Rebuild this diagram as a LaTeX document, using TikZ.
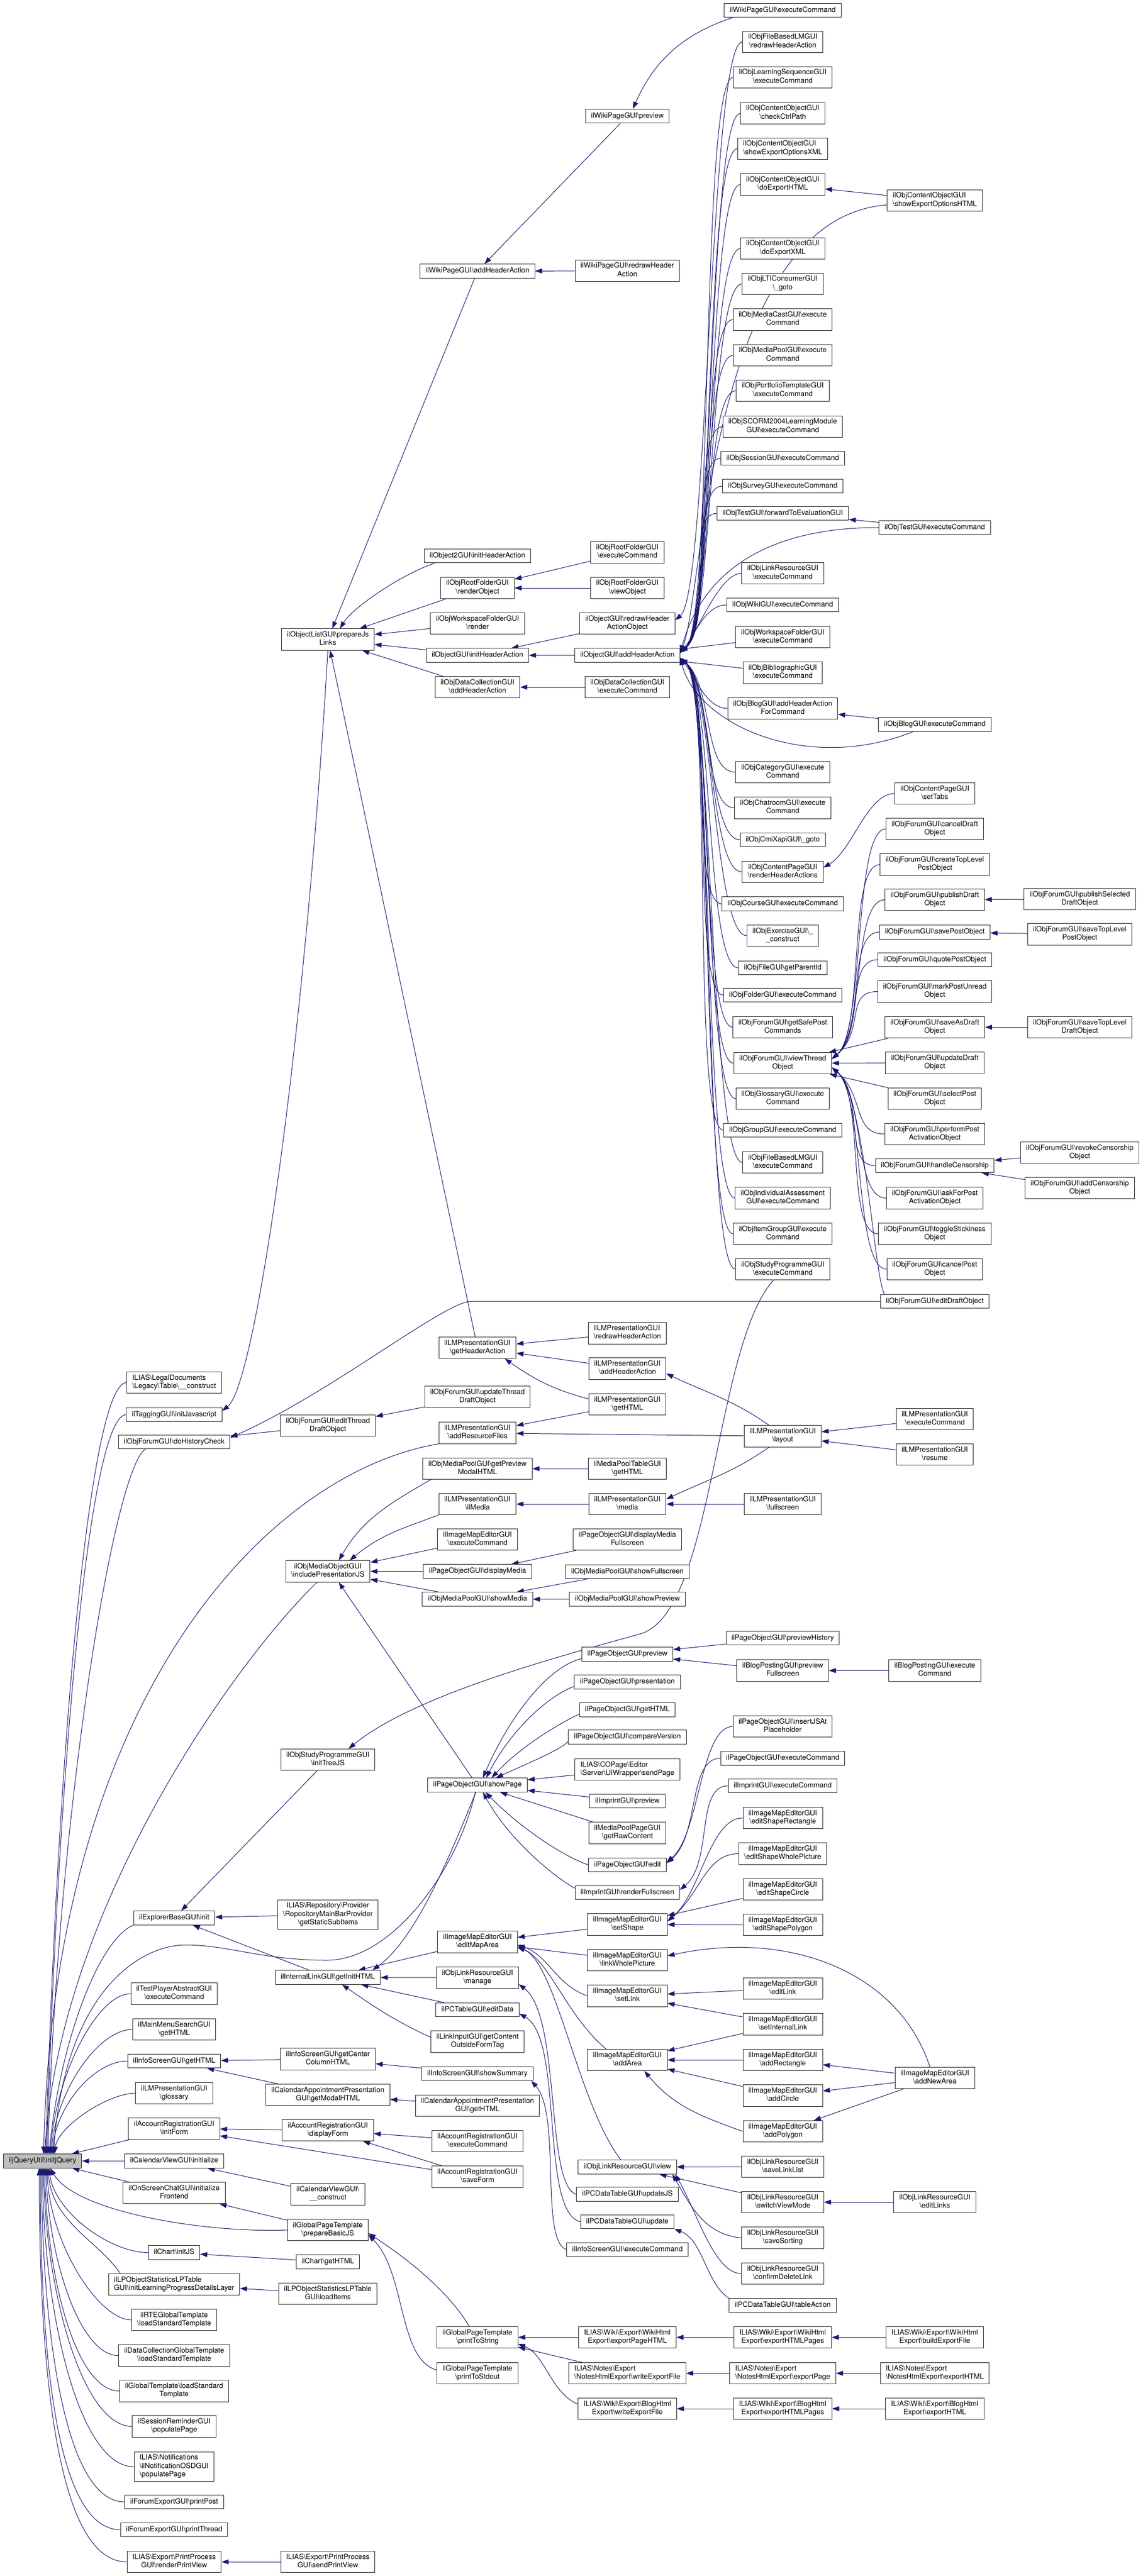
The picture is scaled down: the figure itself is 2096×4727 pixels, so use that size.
\documentclass[tikz,border=0pt]{standalone}
\usepackage{fontspec}
\setmainfont{TeX Gyre Heros}
\usetikzlibrary{arrows.meta}
\definecolor{navy}{HTML}{191970}
\definecolor{rootgray}{HTML}{BFBFBF}
\pgfdeclarelayer{back}
\pgfsetlayers{back,main}
\newcommand{\bs}{\textbackslash}

\begin{document}
\begin{tikzpicture}[x=1pt,y=1pt]
\tikzstyle{fn}=[draw=black!85, line width=1pt, fill=white, font=\fontsize{13.2}{15.3}\selectfont, align=center, inner xsep=10pt, inner ysep=4.7pt, minimum height=25.5pt, execute at begin node=\strut, execute at end node=\strut]
\tikzstyle{fnl}=[fn, align=left]
\tikzstyle{call}=[draw=navy, line width=1pt, -{Triangle[length=13pt,width=9pt]}]
\useasboundingbox (0,0) rectangle (2096,-4727);

% root
\node[fn, fill=rootgray] (root) at (78,-3965.5) {iljQueryUtil\bs initjQuery};

% first column
\node[fnl] (legalConstruct) at (319.5,-2537) {ILIAS\bs LegalDocuments\\\bs Legacy\bs Table\bs\_\_construct};
\node[fn] (taggingJS) at (319.5,-2596) {ilTaggingGUI\bs initJavascript};
\node[fn] (frmHistory) at (319.5,-2646) {ilObjForumGUI\bs doHistoryCheck};
\node[fn] (explorerInit) at (319.5,-3519.5) {ilExplorerBaseGUI\bs init};
\node[fn] (tpaExec) at (319.5,-3658.5) {ilTestPlayerAbstractGUI\\\bs executeCommand};
\node[fn] (mmSearch) at (319.5,-3724) {ilMainMenuSearchGUI\\\bs getHTML};
\node[fn] (infoGetHTML) at (319.5,-3782) {ilInfoScreenGUI\bs getHTML};
\node[fn] (lmGlossary) at (319.5,-3841) {ilLMPresentationGUI\\\bs glossary};
\node[fn] (accInitForm) at (319.5,-3906) {ilAccountRegistrationGUI\\\bs initForm};
\node[fn] (calInit) at (319.5,-3965.5) {ilCalendarViewGUI\bs initialize};
\node[fn] (chatInit) at (319.5,-4024) {ilOnScreenChatGUI\bs initialize\\Frontend};
\node[fn] (chartInit) at (319.5,-4133.5) {ilChart\bs initJS};
\node[fnl] (lpInit) at (319.5,-4192) {ilLPObjectStatisticsLPTable\\GUI\bs initLearningProgressDetailsLayer};
\node[fn] (rteLoad) at (319.5,-4257) {ilRTEGlobalTemplate\\\bs loadStandardTemplate};
\node[fn] (dclLoad) at (319.5,-4322.5) {ilDataCollectionGlobalTemplate\\\bs loadStandardTemplate};
\node[fn] (gtLoad) at (319.5,-4387.5) {ilGlobalTemplate\bs loadStandard\\Template};
\node[fn] (sessRem) at (319.5,-4452.5) {ilSessionReminderGUI\\\bs populatePage};
\node[fnl] (notifOSD) at (319.5,-4526.5) {ILIAS\bs Notifications\\\bs ilNotificationOSDGUI\\\bs populatePage};
\node[fn] (frmPrintPost) at (319.5,-4591) {ilForumExportGUI\bs printPost};
\node[fn] (frmPrintThread) at (319.5,-4642) {ilForumExportGUI\bs printThread};
\node[fn] (printRender) at (319.5,-4701) {ILIAS\bs Export\bs PrintProcess\\GUI\bs renderPrintView};

% second column
\node[fn] (listJs) at (601.5,-1173.5) {ilObjectListGUI\bs prepareJs\\Links};
\node[fn] (frmEditThread) at (601.5,-2616) {ilObjForumGUI\bs editThread\\DraftObject};
\node[fn] (mobInclude) at (601.5,-2883.5) {ilObjMediaObjectGUI\\\bs includePresentationJS};
\node[fn] (prgInitTree) at (601.5,-3229) {ilObjStudyProgrammeGUI\\\bs initTreeJS};
\node[fn] (repoProvider) at (601.5,-3513.5) {ILIAS\bs Repository\bs Provider\\\bs RepositoryMainBarProvider\\\bs getStaticSubItems};
\node[fn] (internalLink) at (601.5,-3628.5) {ilInternalLinkGUI\bs getInitHTML};
\node[fn] (infoCenter) at (601.5,-3778.5) {ilInfoScreenGUI\bs getCenter\\ColumnHTML};
\node[fn] (calPresModal) at (601.5,-3844) {ilCalendarAppointmentPresentation\\GUI\bs getModalHTML};
\node[fn] (accDisplay) at (601.5,-3909) {ilAccountRegistrationGUI\\\bs displayForm};
\node[fn] (calConstruct) at (601.5,-4026.5) {ilCalendarViewGUI\bs\\\_\_construct};
\node[fn] (gptBasicJS) at (601.5,-4092) {ilGlobalPageTemplate\\\bs prepareBasicJS};
\node[fn] (chartHTML) at (601.5,-4150.5) {ilChart\bs getHTML};
\node[fn] (lpLoad) at (601.5,-4209) {ilLPObjectStatisticsLPTable\\GUI\bs loadItems};
\node[fn] (printSend) at (601.5,-4701) {ILIAS\bs Export\bs PrintProcess\\GUI\bs sendPrintView};

% third column
\node[fn] (wikiAdd) at (876,-497.5) {ilWikiPageGUI\bs addHeaderAction};
\node[fn] (obj2Init) at (876,-1020) {ilObject2GUI\bs initHeaderAction};
\node[fn] (rootRender) at (876,-1079) {ilObjRootFolderGUI\\\bs renderObject};
\node[fn] (wsRender) at (876,-1144) {ilObjWorkspaceFolderGUI\\\bs render};
\node[fn] (objInit) at (876,-1202.5) {ilObjectGUI\bs initHeaderAction};
\node[fn] (dclAdd) at (876,-1261) {ilObjDataCollectionGUI\\\bs addHeaderAction};
\node[fn] (lmGetHeader) at (876,-2473) {ilLMPresentationGUI\\\bs getHeaderAction};
\node[fn] (frmUpdThread) at (876,-2563) {ilObjForumGUI\bs updateThread\\DraftObject};
\node[fn] (lmAddRes) at (876,-2629.5) {ilLMPresentationGUI\\\bs addResourceFiles};
\node[fn] (mepPrevModal) at (876,-2695) {ilObjMediaPoolGUI\bs getPreview\\ModalHTML};
\node[fn] (lmIlMedia) at (876,-2760) {ilLMPresentationGUI\\\bs ilMedia};
\node[fn] (imeExec) at (876,-2825) {ilImageMapEditorGUI\\\bs executeCommand};
\node[fn] (pgDispMedia) at (876,-2883.5) {ilPageObjectGUI\bs displayMedia};
\node[fn] (mepShowMedia) at (876,-2934.5) {ilObjMediaPoolGUI\bs showMedia};
\node[fn] (pgShowPage) at (876,-3275.5) {ilPageObjectGUI\bs showPage};
\node[fn] (imeEditMap) at (876,-3563.5) {ilImageMapEditorGUI\\\bs editMapArea};
\node[fn] (lrManage) at (876,-3629) {ilObjLinkResourceGUI\\\bs manage};
\node[fn] (pcTableEdit) at (876,-3688) {ilPCTableGUI\bs editData};
\node[fn] (linkInput) at (876,-3746.5) {ilLinkInputGUI\bs getContent\\OutsideFormTag};
\node[fn] (infoSummary) at (876,-3805) {ilInfoScreenGUI\bs showSummary};
\node[fn] (calPresHTML) at (876,-3864) {ilCalendarAppointmentPresentation\\GUI\bs getHTML};
\node[fn] (accExec) at (876,-3929) {ilAccountRegistrationGUI\\\bs executeCommand};
\node[fn] (accSave) at (876,-3994.5) {ilAccountRegistrationGUI\\\bs saveForm};
\node[fn] (gptToString) at (876,-4289) {ilGlobalPageTemplate\\\bs printToString};
\node[fn] (gptToStdout) at (876,-4355) {ilGlobalPageTemplate\\\bs printToStdout};

% fourth column
\node[fn] (wikiPreview) at (1151,-213) {ilWikiPageGUI\bs preview};
\node[fn] (wikiRedraw) at (1151,-497) {ilWikiPageGUI\bs redrawHeader\\Action};
\node[fn] (rootExec) at (1151,-1013.5) {ilObjRootFolderGUI\\\bs executeCommand};
\node[fn] (rootView) at (1151,-1079) {ilObjRootFolderGUI\\\bs viewObject};
\node[fn] (objRedraw) at (1151,-1144) {ilObjectGUI\bs redrawHeader\\ActionObject};
\node[fn] (objAdd) at (1151,-1202.5) {ilObjectGUI\bs addHeaderAction};
\node[fn] (dclExec) at (1151,-1261) {ilObjDataCollectionGUI\\\bs executeCommand};
\node[fnl] (lmRedraw) at (1151,-2446.5) {ilLMPresentationGUI\\\bs redrawHeaderAction};
\node[fn] (lmAdd) at (1151,-2511.5) {ilLMPresentationGUI\\\bs addHeaderAction};
\node[fn] (lmGetHTML) at (1151,-2577) {ilLMPresentationGUI\\\bs getHTML};
\node[fn] (mepTblHTML) at (1151,-2695) {ilMediaPoolTableGUI\\\bs getHTML};
\node[fn] (lmMedia) at (1151,-2760) {ilLMPresentationGUI\\\bs media};
\node[fn] (pgDispMediaFS) at (1151,-2825) {ilPageObjectGUI\bs displayMedia\\Fullscreen};
\node[fn] (mepShowFS) at (1151,-2884) {ilObjMediaPoolGUI\bs showFullscreen};
\node[fn] (mepShowPrev) at (1151,-2934.5) {ilObjMediaPoolGUI\bs showPreview};
\node[fn] (pgPreview) at (1151,-3035.5) {ilPageObjectGUI\bs preview};
\node[fn] (pgPresentation) at (1151,-3086.5) {ilPageObjectGUI\bs presentation};
\node[fn] (pgGetHTML) at (1151,-3137.5) {ilPageObjectGUI\bs getHTML};
\node[fn] (pgCompare) at (1151,-3187.5) {ilPageObjectGUI\bs compareVersion};
\node[fnl] (coPageSend) at (1151,-3247) {ILIAS\bs COPage\bs Editor\\\bs Server\bs UIWrapper\bs sendPage};
\node[fn] (imprintPreview) at (1151,-3305) {ilImprintGUI\bs preview};
\node[fn] (mepPageRaw) at (1151,-3363.5) {ilMediaPoolPageGUI\\\bs getRawContent};
\node[fn] (pgEdit) at (1151,-3422) {ilPageObjectGUI\bs edit};
\node[fn] (imprintRenderFS) at (1151,-3473) {ilImprintGUI\bs renderFullscreen};
\node[fn] (imeSetShape) at (1151,-3531.5) {ilImageMapEditorGUI\\\bs setShape};
\node[fn] (imeLinkWhole) at (1151,-3597) {ilImageMapEditorGUI\\\bs linkWholePicture};
\node[fn] (imeSetLink) at (1151,-3662.5) {ilImageMapEditorGUI\\\bs setLink};
\node[fn] (imeAddArea) at (1151,-3780) {ilImageMapEditorGUI\\\bs addArea};
\node[fn] (lrView) at (1151,-3976.5) {ilObjLinkResourceGUI\bs view};
\node[fn] (pcdtUpdJS) at (1151,-4026.5) {ilPCDataTableGUI\bs updateJS};
\node[fn] (pcdtUpd) at (1151,-4077) {ilPCDataTableGUI\bs update};
\node[fn] (infoExec) at (1151,-4128) {ilInfoScreenGUI\bs executeCommand};
\node[fn] (wikiExpPage) at (1151,-4289) {ILIAS\bs Wiki\bs Export\bs WikiHtml\\Export\bs exportPageHTML};
\node[fnl] (notesWrite) at (1151,-4355) {ILIAS\bs Notes\bs Export\\\bs NotesHtmlExport\bs writeExportFile};
\node[fn] (blogWrite) at (1151,-4420) {ILIAS\bs Wiki\bs Export\bs BlogHtml\\Export\bs writeExportFile};

% fifth column
\node[fn] (wikiExec) at (1436,-19) {ilWikiPageGUI\bs executeCommand};
\node[fn] (fileLMredraw) at (1436,-77) {ilObjFileBasedLMGUI\\\bs redrawHeaderAction};
\node[fn] (lsoExec) at (1436,-142) {ilObjLearningSequenceGUI\\\bs executeCommand};
\node[fn] (cntCtrl) at (1436,-208) {ilObjContentObjectGUI\\\bs checkCtrlPath};
\node[fnl] (cntXMLopt) at (1436,-273) {ilObjContentObjectGUI\\\bs showExportOptionsXML};
\node[fn] (cntDoHTML) at (1436,-338.5) {ilObjContentObjectGUI\\\bs doExportHTML};
\node[fn] (cntDoXML) at (1436,-456) {ilObjContentObjectGUI\\\bs doExportXML};
\node[fn] (ltiGoto) at (1436,-521) {ilObjLTIConsumerGUI\\\bs\_goto};
\node[fn] (mcstExec) at (1436,-586.5) {ilObjMediaCastGUI\bs execute\\Command};
\node[fn] (mepExec) at (1436,-652) {ilObjMediaPoolGUI\bs execute\\Command};
\node[fn] (prtfTplExec) at (1436,-717) {ilObjPortfolioTemplateGUI\\\bs executeCommand};
\node[fn] (scormExec) at (1436,-783) {ilObjSCORM2004LearningModule\\GUI\bs executeCommand};
\node[fn] (sessExec) at (1436,-841) {ilObjSessionGUI\bs executeCommand};
\node[fn] (svyExec) at (1436,-892) {ilObjSurveyGUI\bs executeCommand};
\node[fn] (tstFwd) at (1436,-942) {ilObjTestGUI\bs forwardToEvaluationGUI};
\node[fn] (lrExec) at (1436,-1052) {ilObjLinkResourceGUI\\\bs executeCommand};
\node[fn] (wikiObjExec) at (1436,-1110) {ilObjWikiGUI\bs executeCommand};
\node[fn] (wfldExec) at (1436,-1169) {ilObjWorkspaceFolderGUI\\\bs executeCommand};
\node[fn] (biblExec) at (1436,-1234.5) {ilObjBibliographicGUI\\\bs executeCommand};
\node[fn] (blogAddCmd) at (1436,-1300) {ilObjBlogGUI\bs addHeaderAction\\ForCommand};
\node[fn] (catExec) at (1436,-1417) {ilObjCategoryGUI\bs execute\\Command};
\node[fn] (chatExec) at (1436,-1482.5) {ilObjChatroomGUI\bs execute\\Command};
\node[fn] (cmixGoto) at (1436,-1541) {ilObjCmiXapiGUI\bs\_goto};
\node[fn] (cpageRender) at (1436,-1600) {ilObjContentPageGUI\\\bs renderHeaderActions};
\node[fn] (crsExec) at (1436,-1658.5) {ilObjCourseGUI\bs executeCommand};
\node[fn] (excConstruct) at (1436,-1717) {ilObjExerciseGUI\bs\_\\\_construct};
\node[fn] (fileParent) at (1436,-1776) {ilObjFileGUI\bs getParentId};
\node[fn] (fldExec) at (1436,-1826) {ilObjFolderGUI\bs executeCommand};
\node[fn] (frmSafe) at (1436,-1885) {ilObjForumGUI\bs getSafePost\\Commands};
\node[fn] (frmView) at (1436,-1951) {ilObjForumGUI\bs viewThread\\Object};
\node[fn] (gloExec) at (1436,-2016) {ilObjGlossaryGUI\bs execute\\Command};
\node[fn] (grpExec) at (1436,-2074) {ilObjGroupGUI\bs executeCommand};
\node[fn] (fileLMExec) at (1436,-2133) {ilObjFileBasedLMGUI\\\bs executeCommand};
\node[fn] (iassExec) at (1436,-2198.5) {ilObjIndividualAssessment\\GUI\bs executeCommand};
\node[fn] (itgrExec) at (1436,-2264) {ilObjItemGroupGUI\bs execute\\Command};
\node[fn] (prgExec) at (1436,-2329) {ilObjStudyProgrammeGUI\\\bs executeCommand};
\node[fn] (lmLayout) at (1436,-2635.5) {ilLMPresentationGUI\\\bs layout};
\node[fn] (lmFullscreen) at (1436,-2760) {ilLMPresentationGUI\\\bs fullscreen};
\node[fn] (pgPreviewHist) at (1436,-3006) {ilPageObjectGUI\bs previewHistory};
\node[fn] (blogPrevFS) at (1436,-3065.5) {ilBlogPostingGUI\bs preview\\Fullscreen};
\node[fn] (pgInsertJS) at (1436,-3168) {ilPageObjectGUI\bs insertJSAt\\Placeholder};
\node[fn] (pgExec) at (1436,-3226.5) {ilPageObjectGUI\bs executeCommand};
\node[fn] (imprintExec) at (1436,-3277) {ilImprintGUI\bs executeCommand};
\node[fn] (imeEditRect) at (1436,-3336) {ilImageMapEditorGUI\\\bs editShapeRectangle};
\node[fn] (imeEditWhole) at (1436,-3401.5) {ilImageMapEditorGUI\\\bs editShapeWholePicture};
\node[fn] (imeEditCircle) at (1436,-3467) {ilImageMapEditorGUI\\\bs editShapeCircle};
\node[fn] (imeEditPoly) at (1436,-3532) {ilImageMapEditorGUI\\\bs editShapePolygon};
\node[fn] (imeEditLink) at (1436,-3649) {ilImageMapEditorGUI\\\bs editLink};
\node[fn] (imeSetIntLink) at (1436,-3714.5) {ilImageMapEditorGUI\\\bs setInternalLink};
\node[fn] (imeAddRect) at (1436,-3780) {ilImageMapEditorGUI\\\bs addRectangle};
\node[fn] (imeAddCircle) at (1436,-3845.5) {ilImageMapEditorGUI\\\bs addCircle};
\node[fn] (imeAddPoly) at (1436,-3911) {ilImageMapEditorGUI\\\bs addPolygon};
\node[fn] (lrSaveList) at (1436,-3976) {ilObjLinkResourceGUI\\\bs saveLinkList};
\node[fn] (lrSwitch) at (1436,-4041) {ilObjLinkResourceGUI\\\bs switchViewMode};
\node[fn] (lrSaveSort) at (1436,-4106.5) {ilObjLinkResourceGUI\\\bs saveSorting};
\node[fn] (lrConfirm) at (1436,-4172) {ilObjLinkResourceGUI\\\bs confirmDeleteLink};
\node[fn] (pcdtTableAct) at (1436,-4230.5) {ilPCDataTableGUI\bs tableAction};
\node[fn] (wikiExpPages) at (1436,-4289) {ILIAS\bs Wiki\bs Export\bs WikiHtml\\Export\bs exportHTMLPages};
\node[fnl] (notesPage) at (1436,-4355) {ILIAS\bs Notes\bs Export\\\bs NotesHtmlExport\bs exportPage};
\node[fn] (blogPages) at (1436,-4420) {ILIAS\bs Wiki\bs Export\bs BlogHtml\\Export\bs exportHTMLPages};

% sixth column
\node[fnl] (cntHTMLopt) at (1715,-368) {ilObjContentObjectGUI\\\bs showExportOptionsHTML};
\node[fn] (tstExec) at (1715,-968) {ilObjTestGUI\bs executeCommand};
\node[fn] (blogExec) at (1715,-1329.5) {ilObjBlogGUI\bs executeCommand};
\node[fn] (cpageTabs) at (1715,-1456) {ilObjContentPageGUI\\\bs setTabs};
\node[fn] (frmCancelDraft) at (1715,-1521) {ilObjForumGUI\bs cancelDraft\\Object};
\node[fn] (frmCreateTop) at (1715,-1586.5) {ilObjForumGUI\bs createTopLevel\\PostObject};
\node[fn] (frmPublishDraft) at (1715,-1651) {ilObjForumGUI\bs publishDraft\\Object};
\node[fn] (frmSavePost) at (1715,-1710.5) {ilObjForumGUI\bs savePostObject};
\node[fn] (frmQuote) at (1715,-1761) {ilObjForumGUI\bs quotePostObject};
\node[fn] (frmMarkUnread) at (1715,-1819.5) {ilObjForumGUI\bs markPostUnread\\Object};
\node[fn] (frmSaveAsDraft) at (1715,-1885) {ilObjForumGUI\bs saveAsDraft\\Object};
\node[fn] (frmUpdateDraft) at (1715,-1950.5) {ilObjForumGUI\bs updateDraft\\Object};
\node[fn] (frmSelect) at (1715,-2016) {ilObjForumGUI\bs selectPost\\Object};
\node[fn] (frmPerform) at (1715,-2081) {ilObjForumGUI\bs performPost\\ActivationObject};
\node[fn] (frmHandle) at (1715,-2139) {ilObjForumGUI\bs handleCensorship};
\node[fn] (frmAsk) at (1715,-2198.5) {ilObjForumGUI\bs askForPost\\ActivationObject};
\node[fn] (frmSticky) at (1715,-2264) {ilObjForumGUI\bs toggleStickiness\\Object};
\node[fn] (frmCancelPost) at (1715,-2329) {ilObjForumGUI\bs cancelPost\\Object};
\node[fn] (frmEditDraft) at (1715,-2388) {ilObjForumGUI\bs editDraftObject};
\node[fn] (lmExec) at (1715,-2604) {ilLMPresentationGUI\\\bs executeCommand};
\node[fn] (lmResume) at (1715,-2669) {ilLMPresentationGUI\\\bs resume};
\node[fn] (blogPostExec) at (1715,-3065.5) {ilBlogPostingGUI\bs execute\\Command};
\node[fn] (imeAddNew) at (1715,-3813) {ilImageMapEditorGUI\\\bs addNewArea};
\node[fn] (lrEditLinks) at (1715,-4041) {ilObjLinkResourceGUI\\\bs editLinks};
\node[fn] (wikiBuild) at (1715,-4289) {ILIAS\bs Wiki\bs Export\bs WikiHtml\\Export\bs buildExportFile};
\node[fnl] (notesHTML) at (1715,-4355) {ILIAS\bs Notes\bs Export\\\bs NotesHtmlExport\bs exportHTML};
\node[fn] (blogExpHTML) at (1715,-4420) {ILIAS\bs Wiki\bs Export\bs BlogHtml\\Export\bs exportHTML};

% seventh column
\node[fn] (frmPublishSel) at (1981,-1650) {ilObjForumGUI\bs publishSelected\\DraftObject};
\node[fn] (frmSaveTopPost) at (1981,-1714.5) {ilObjForumGUI\bs saveTopLevel\\PostObject};
\node[fn] (frmSaveTopDraft) at (1981,-1885) {ilObjForumGUI\bs saveTopLevel\\DraftObject};
\node[fn] (frmRevoke) at (1981,-2115) {ilObjForumGUI\bs revokeCensorship\\Object};
\node[fn] (frmAddCens) at (1981,-2180) {ilObjForumGUI\bs addCensorship\\Object};

\begin{pgfonlayer}{back}
\fill[white] (0,0) rectangle (2096,-4727);
% callers of initjQuery
\draw[call] (legalConstruct.west) .. controls +(-70,0) and +(20,700) .. ([xshift=6pt]root.north);
\draw[call] (taggingJS.west) .. controls +(-70,0) and +(18,650) .. ([xshift=8pt]root.north);
\draw[call] ([xshift=50pt]frmHistory.south west) .. controls +(-60,-40) and +(16,600) .. ([xshift=10pt]root.north);
\draw[call] (lmAddRes.south west) .. controls (500,-2700) and (100,-3100) .. ([xshift=2pt]root.north);
\draw[call] ([xshift=-20pt]mobInclude.south) .. controls (430,-3050) and (110,-3500) .. ([xshift=4pt]root.north);
\draw[call] (explorerInit.south west) .. controls (180,-3560) and (110,-3750) .. ([xshift=12pt]root.north);
\draw[call] ([xshift=-4pt]pgShowPage.south) .. controls (840,-3430) and (720,-3597) .. (600,-3597) .. controls (480,-3597) and (420,-3569) .. (340,-3569) .. controls (260,-3569) and (120,-3650) .. ([xshift=20pt]root.north);
\draw[call] (tpaExec.west) .. controls +(-60,0) and +(12,150) .. ([xshift=14pt]root.north);
\draw[call] (mmSearch.west) .. controls +(-60,0) and +(10,120) .. ([xshift=16pt]root.north);
\draw[call] (infoGetHTML.west) .. controls +(-60,0) and +(8,90) .. ([xshift=18pt]root.north);
\draw[call] (lmGlossary.west) .. controls +(-50,0) and +(6,50) .. ([xshift=22pt]root.north);
\draw[call] (accInitForm) -- (root);
\draw[call] (calInit) -- (root);
\draw[call] (chatInit) -- (root);
\draw[call] (gptBasicJS.west) .. controls (380,-4098) and (140,-4060) .. ([xshift=14pt]root.south);
\draw[call] (chartInit.west) .. controls +(-70,0) and +(10,-80) .. ([xshift=12pt]root.south);
\draw[call] ([xshift=22pt]lpInit.north west) .. controls +(-40,60) and +(8,-100) .. ([xshift=10pt]root.south);
\draw[call] (rteLoad.west) .. controls +(-60,0) and +(6,-140) .. ([xshift=8pt]root.south);
\draw[call] (dclLoad.west) .. controls +(-70,0) and +(6,-170) .. ([xshift=6pt]root.south);
\draw[call] (gtLoad.west) .. controls +(-80,0) and +(4,-200) .. ([xshift=4pt]root.south);
\draw[call] (sessRem.west) .. controls +(-90,0) and +(4,-230) .. ([xshift=2pt]root.south);
\draw[call] (notifOSD.west) .. controls +(-100,0) and +(2,-270) .. (root.south);
\draw[call] (frmPrintPost.west) .. controls +(-110,0) and +(2,-300) .. ([xshift=-2pt]root.south);
\draw[call] (frmPrintThread.west) .. controls +(-120,0) and +(0,-330) .. ([xshift=-4pt]root.south);
\draw[call] (printRender.west) .. controls +(-130,0) and +(0,-360) .. ([xshift=-6pt]root.south);

% prepareJsLinks and the header actions
\draw[call] (listJs.south) .. controls (560,-1900) and (470,-2540) .. ([yshift=7pt]taggingJS.east);
\draw[call] (wikiAdd) -- (listJs);
\draw[call] ([xshift=20pt]obj2Init.south west) .. controls +(-60,-20) and +(25,40) .. ([xshift=22pt]listJs.north);
\draw[call] (rootRender) -- (listJs);
\draw[call] (wsRender) -- (listJs);
\draw[call] (objInit) -- (listJs);
\draw[call] (dclAdd) -- (listJs);
\draw[call] (lmGetHeader) -- (listJs);
\draw[call] (wikiRedraw) -- (wikiAdd);
\draw[call] (wikiPreview) -- (wikiAdd);
\draw[call] ([xshift=16pt]wikiExec.south west) .. controls +(-90,-30) and +(40,90) .. ([xshift=10pt]wikiPreview.north);
\draw[call] (rootExec) -- (rootRender);
\draw[call] (rootView) -- (rootRender);
\draw[call] (objRedraw) -- (objInit);
\draw[call] (objAdd) -- (objInit);
\draw[call] (dclExec) -- (dclAdd);
\draw[call] (fileLMredraw.west) .. controls +(-60,0) and +(61,51) .. ([yshift=6pt]objRedraw.east);

% callers of ilObjectGUI::addHeaderAction
\draw[call] (lsoExec.west) .. controls +(-60,0) and +(61,51) .. ([yshift=5pt]objAdd.east);
\draw[call] (cntCtrl.west) .. controls +(-60,0) and +(61,51) .. ([yshift=5pt]objAdd.east);
\draw[call] (cntXMLopt.west) .. controls +(-60,0) and +(61,51) .. ([yshift=5pt]objAdd.east);
\draw[call] (cntDoHTML.west) .. controls +(-60,0) and +(61,51) .. ([yshift=5pt]objAdd.east);
\draw[call] (cntDoXML.west) .. controls +(-60,0) and +(61,51) .. ([yshift=5pt]objAdd.east);
\draw[call] (ltiGoto.west) .. controls +(-60,0) and +(61,51) .. ([yshift=5pt]objAdd.east);
\draw[call] (mcstExec.west) .. controls +(-60,0) and +(61,51) .. ([yshift=5pt]objAdd.east);
\draw[call] (mepExec.west) .. controls +(-60,0) and +(61,51) .. ([yshift=5pt]objAdd.east);
\draw[call] (prtfTplExec.west) .. controls +(-60,0) and +(61,51) .. ([yshift=5pt]objAdd.east);
\draw[call] (scormExec.west) .. controls +(-60,0) and +(61,51) .. ([yshift=5pt]objAdd.east);
\draw[call] (sessExec.west) .. controls +(-60,0) and +(61,51) .. ([yshift=5pt]objAdd.east);
\draw[call] (svyExec.west) .. controls +(-60,0) and +(61,51) .. ([yshift=5pt]objAdd.east);
\draw[call] (tstFwd.west) .. controls +(-60,0) and +(61,51) .. ([yshift=5pt]objAdd.east);
\draw[call] (lrExec.west) .. controls +(-40,0) and +(32,38) .. ([yshift=5pt]objAdd.east);
\draw[call] (wikiObjExec.west) .. controls +(-40,0) and +(26,31) .. ([yshift=5pt]objAdd.east);
\draw[call] (wfldExec) -- (objAdd);
\draw[call] (biblExec) -- (objAdd);
\draw[call] (blogAddCmd.west) .. controls +(-40,0) and +(26,-31) .. ([yshift=-5pt]objAdd.east);
\draw[call] (catExec.west) .. controls +(-60,0) and +(61,-51) .. ([yshift=-5pt]objAdd.east);
\draw[call] (chatExec.west) .. controls +(-60,0) and +(61,-51) .. ([yshift=-5pt]objAdd.east);
\draw[call] (cmixGoto.west) .. controls +(-60,0) and +(61,-51) .. ([yshift=-5pt]objAdd.east);
\draw[call] (cpageRender.west) .. controls +(-60,0) and +(61,-51) .. ([yshift=-5pt]objAdd.east);
\draw[call] (crsExec.west) .. controls +(-60,0) and +(61,-51) .. ([yshift=-5pt]objAdd.east);
\draw[call] (excConstruct.west) .. controls +(-60,0) and +(61,-51) .. ([yshift=-5pt]objAdd.east);
\draw[call] (fileParent.west) .. controls +(-60,0) and +(61,-51) .. ([yshift=-5pt]objAdd.east);
\draw[call] (fldExec.west) .. controls +(-60,0) and +(61,-51) .. ([yshift=-5pt]objAdd.east);
\draw[call] (frmSafe.west) .. controls +(-60,0) and +(61,-51) .. ([yshift=-5pt]objAdd.east);
\draw[call] (frmView.west) .. controls +(-60,0) and +(61,-51) .. ([yshift=-5pt]objAdd.east);
\draw[call] (gloExec.west) .. controls +(-60,0) and +(61,-51) .. ([yshift=-5pt]objAdd.east);
\draw[call] (grpExec.west) .. controls +(-60,0) and +(61,-51) .. ([yshift=-5pt]objAdd.east);
\draw[call] (fileLMExec.west) .. controls +(-60,0) and +(61,-51) .. ([yshift=-5pt]objAdd.east);
\draw[call] (iassExec.west) .. controls +(-60,0) and +(61,-51) .. ([yshift=-5pt]objAdd.east);
\draw[call] (itgrExec.west) .. controls +(-60,0) and +(61,-51) .. ([yshift=-5pt]objAdd.east);
\draw[call] (prgExec.west) .. controls +(-60,0) and +(61,-51) .. ([yshift=-5pt]objAdd.east);
\draw[call] ([yshift=-8pt]cntHTMLopt.west) .. controls (1300,-400) and (1290,-1100) .. ([yshift=5pt]objAdd.east);
\draw[call] (cntHTMLopt) -- (cntDoHTML);
\draw[call] (tstExec.west) .. controls (1330,-968) and (1270,-1120) .. ([yshift=5pt]objAdd.east);
\draw[call] (tstExec) -- (tstFwd);
\draw[call] ([xshift=-40pt]blogExec.south) .. controls (1480,-1420) and (1280,-1330) .. ([yshift=-5pt]objAdd.east);
\draw[call] (blogExec) -- (blogAddCmd);
\draw[call] (cpageTabs.west) .. controls +(-50,0) and +(52,30) .. ([yshift=8pt]cpageRender.east);

% forum thread view
\draw[call] (frmCancelDraft.west) .. controls +(-60,0) and +(61,51) .. ([yshift=8pt]frmView.east);
\draw[call] (frmCreateTop.west) .. controls +(-60,0) and +(61,51) .. ([yshift=8pt]frmView.east);
\draw[call] (frmPublishDraft.west) .. controls +(-60,0) and +(61,51) .. ([yshift=8pt]frmView.east);
\draw[call] (frmSavePost.west) .. controls +(-60,0) and +(61,51) .. ([yshift=8pt]frmView.east);
\draw[call] (frmQuote.west) .. controls +(-60,0) and +(61,51) .. ([yshift=8pt]frmView.east);
\draw[call] (frmMarkUnread.west) .. controls +(-60,0) and +(61,51) .. ([yshift=8pt]frmView.east);
\draw[call] (frmSaveAsDraft) -- (frmView);
\draw[call] (frmUpdateDraft) -- (frmView);
\draw[call] (frmSelect) -- (frmView);
\draw[call] (frmPerform.west) .. controls +(-60,0) and +(61,-51) .. ([yshift=-8pt]frmView.east);
\draw[call] (frmHandle.west) .. controls +(-60,0) and +(61,-51) .. ([yshift=-8pt]frmView.east);
\draw[call] (frmAsk.west) .. controls +(-60,0) and +(61,-51) .. ([yshift=-8pt]frmView.east);
\draw[call] (frmSticky.west) .. controls +(-60,0) and +(61,-51) .. ([yshift=-8pt]frmView.east);
\draw[call] (frmCancelPost.west) .. controls +(-60,0) and +(61,-51) .. ([yshift=-8pt]frmView.east);
\draw[call] ([xshift=8pt]frmEditDraft.north west) .. controls +(-20,35) and +(61,-51) .. ([yshift=-8pt]frmView.east);
\draw[call] (frmPublishSel) -- (frmPublishDraft);
\draw[call] (frmSaveTopPost) -- (frmSavePost);
\draw[call] (frmSaveTopDraft) -- (frmSaveAsDraft);
\draw[call] (frmRevoke) -- (frmHandle);
\draw[call] (frmAddCens) -- (frmHandle);
\draw[call] (frmEditDraft.west) -- (860,-2388) .. controls (800,-2400) and (600,-2560) .. ([yshift=8pt]frmHistory.east);
\draw[call] (frmEditThread) -- (frmHistory);
\draw[call] (frmUpdThread) -- (frmEditThread);
\draw[call] ([xshift=-17pt]prgExec.south) .. controls (1310,-2470) and (1310,-2960) .. (1175,-2998) .. controls (1025,-3040) and (760,-3110) .. ([xshift=38pt]prgInitTree.north);

% learning module presentation
\draw[call] (lmRedraw) -- (lmGetHeader);
\draw[call] (lmAdd) -- (lmGetHeader);
\draw[call] ([yshift=10pt]lmGetHTML.west) .. controls +(-64,17) and +(54,-38) .. ([xshift=50pt]lmGetHeader.south);
\draw[call] (lmGetHTML) -- (lmAddRes);
\draw[call] (lmLayout) -- (lmAddRes);
\draw[call] ([xshift=-25pt]lmLayout.north) .. controls +(-67,47) and +(74,-35) .. ([yshift=-9pt]lmAdd.east);
\draw[call] ([xshift=-25pt]lmLayout.south) .. controls +(-67,-47) and +(74,35) .. ([yshift=9pt]lmMedia.east);
\draw[call] (lmExec) -- (lmLayout);
\draw[call] (lmResume) -- (lmLayout);
\draw[call] (lmFullscreen) -- (lmMedia);
\draw[call] (lmMedia) -- (lmIlMedia);
\draw[call] (mepTblHTML) -- (mepPrevModal);
\draw[call] (pgDispMediaFS) -- (pgDispMedia);
\draw[call] (mepShowFS) -- (mepShowMedia);
\draw[call] (mepShowPrev) -- (mepShowMedia);

% media object presentation
\draw[call] ([xshift=15pt]mepPrevModal.south west) .. controls +(-76,-44) and +(44,76) .. ([xshift=20pt]mobInclude.north);
\draw[call] (lmIlMedia.south west) .. controls +(-68,-25) and +(55,46) .. ([xshift=40pt]mobInclude.north);
\draw[call] (imeExec) -- (mobInclude);
\draw[call] (pgDispMedia) -- (mobInclude);
\draw[call] (mepShowMedia) -- (mobInclude);
\draw[call] ([xshift=-10pt]pgShowPage.north) -- ([xshift=20pt]mobInclude.south);

% page object showPage
\draw[call] ([yshift=-8pt]pgPreview.west) .. controls (1000,-3060) and (930,-3160) .. ([xshift=10pt]pgShowPage.north);
\draw[call] ([yshift=-8pt]pgPresentation.west) .. controls (1010,-3110) and (940,-3170) .. ([xshift=16pt]pgShowPage.north);
\draw[call] ([yshift=-8pt]pgGetHTML.west) .. controls (1020,-3165) and (950,-3210) .. ([xshift=26pt]pgShowPage.north);
\draw[call] ([yshift=-8pt]pgCompare.west) .. controls (1030,-3210) and (970,-3235) .. ([xshift=34pt]pgShowPage.north);
\draw[call] (coPageSend) -- (pgShowPage);
\draw[call] (imprintPreview) -- (pgShowPage);
\draw[call] (mepPageRaw) -- (pgShowPage);
\draw[call] (pgEdit.west) .. controls (1030,-3405) and (950,-3350) .. ([xshift=15pt]pgShowPage.south);
\draw[call] ([yshift=8pt]imprintRenderFS.west) .. controls (1010,-3440) and (930,-3370) .. ([xshift=10pt]pgShowPage.south);
\draw[call] (pgPreviewHist) -- (pgPreview);
\draw[call] (blogPrevFS) -- (pgPreview);
\draw[call] (blogPostExec) -- (blogPrevFS);
\draw[call] (pgInsertJS.west) .. controls +(-60,0) and +(61,51) .. ([yshift=5pt]pgEdit.east);
\draw[call] (pgExec.west) .. controls +(-60,0) and +(61,51) .. ([yshift=3pt]pgEdit.east);
\draw[call] (imprintExec.west) .. controls +(-60,0) and +(61,51) .. ([yshift=5pt]imprintRenderFS.east);

% explorer and internal links
\draw[call] (prgInitTree) -- (explorerInit);
\draw[call] (repoProvider) -- (explorerInit);
\draw[call] (internalLink) -- (explorerInit);
\draw[call] ([xshift=-3pt]pgShowPage.south) .. controls (820,-3420) and (760,-3560) .. ([xshift=-15pt]internalLink.north east);
\draw[call] (imeEditMap) -- (internalLink);
\draw[call] (lrManage) -- (internalLink);
\draw[call] (pcTableEdit) -- (internalLink);
\draw[call] ([yshift=8pt]linkInput.west) .. controls +(-67,31) and +(61,-42) .. ([xshift=26pt]internalLink.south);

% image map editor
\draw[call] (imeSetShape) -- (imeEditMap);
\draw[call] (imeLinkWhole) -- (imeEditMap);
\draw[call] (imeSetLink.west) .. controls +(-58,21) and +(58,-21) .. ([yshift=-5pt]imeEditMap.east);
\draw[call] ([xshift=-39pt]imeAddArea.north) .. controls (1040,-3700) and (1010,-3600) .. ([yshift=-8pt]imeEditMap.east);
\draw[call] ([xshift=-12pt]lrView.north) .. controls (1060,-3860) and (1020,-3600) .. ([yshift=-10pt]imeEditMap.east);
\draw[call] (imeEditRect.west) .. controls +(-60,0) and +(61,51) .. ([yshift=6pt]imeSetShape.east);
\draw[call] (imeEditWhole.west) .. controls +(-60,0) and +(61,51) .. ([yshift=6pt]imeSetShape.east);
\draw[call] (imeEditCircle) -- (imeSetShape);
\draw[call] (imeEditPoly) -- (imeSetShape);
\draw[call] ([xshift=-9pt]imeAddNew.north) .. controls (1650,-3620) and (1450,-3540) .. ([yshift=8pt]imeLinkWhole.east);
\draw[call] (imeEditLink) -- (imeSetLink);
\draw[call] (imeSetIntLink) -- (imeSetLink);
\draw[call] (imeSetIntLink) -- (imeAddArea);
\draw[call] (imeAddRect) -- (imeAddArea);
\draw[call] (imeAddCircle) -- (imeAddArea);
\draw[call] (imeAddPoly.west) .. controls +(-78,28) and +(53,-64) .. ([xshift=31pt]imeAddArea.south);
\draw[call] (imeAddNew) -- (imeAddRect);
\draw[call] (imeAddNew) -- (imeAddCircle);
\draw[call] (imeAddNew) -- (imeAddPoly);

% link resources, data tables, info screen
\draw[call] (pcdtUpdJS.west) .. controls (1000,-4010) and (1030,-3700) .. ([yshift=-12pt]lrManage.east);
\draw[call] (pcdtUpd.west) .. controls (990,-4060) and (1035,-3740) .. ([yshift=-7pt]pcTableEdit.east);
\draw[call] (infoExec.west) .. controls (990,-4110) and (1030,-3880) .. ([xshift=-4pt]infoSummary.south east);
\draw[call] (lrSaveList) -- (lrView);
\draw[call] (lrSwitch) -- (lrView);
\draw[call] (lrSaveSort.west) .. controls +(-67,6) and +(33,-58) .. ([xshift=-8pt]lrView.south east);
\draw[call] (lrConfirm.west) .. controls +(-50,0) and +(40,-69) .. ([xshift=-3pt]lrView.south east);
\draw[call] (lrEditLinks) -- (lrSwitch);
\draw[call] (pcdtTableAct.north west) .. controls (1295,-4190) and (1290,-4110) .. (pcdtUpd.south east);

% info screen, calendar, registration
\draw[call] (infoCenter) -- (infoGetHTML);
\draw[call] (calPresModal) -- (infoGetHTML);
\draw[call] (infoSummary) -- (infoCenter);
\draw[call] (calPresHTML) -- (calPresModal);
\draw[call] (accDisplay) -- (accInitForm);
\draw[call] (accSave) -- (accInitForm);
\draw[call] (accExec) -- (accDisplay);
\draw[call] (accSave) -- (accDisplay);
\draw[call] (calConstruct) -- (calInit);

% page template and exports
\draw[call] (gptBasicJS) -- (chatInit);
\draw[call] ([xshift=-15pt]gptToString.north) .. controls (820,-4200) and (740,-4140) .. ([yshift=-6pt]gptBasicJS.east);
\draw[call] ([yshift=6pt]gptToStdout.west) .. controls (730,-4330) and (745,-4170) .. ([yshift=-9pt]gptBasicJS.east);
\draw[call] (chartHTML) -- (chartInit);
\draw[call] (lpLoad) -- (lpInit);
\draw[call] (printSend) -- (printRender);
\draw[call] (wikiExpPage) -- (gptToString);
\draw[call] (notesWrite) -- (gptToString);
\draw[call] ([yshift=8pt]blogWrite.west) .. controls (1010,-4390) and (1000,-4320) .. ([yshift=-12pt]gptToString.east);
\draw[call] (wikiExpPages) -- (wikiExpPage);
\draw[call] (wikiBuild) -- (wikiExpPages);
\draw[call] (notesPage) -- (notesWrite);
\draw[call] (notesHTML) -- (notesPage);
\draw[call] (blogPages) -- (blogWrite);
\draw[call] (blogExpHTML) -- (blogPages);
\end{pgfonlayer}
\end{tikzpicture}
\end{document}
